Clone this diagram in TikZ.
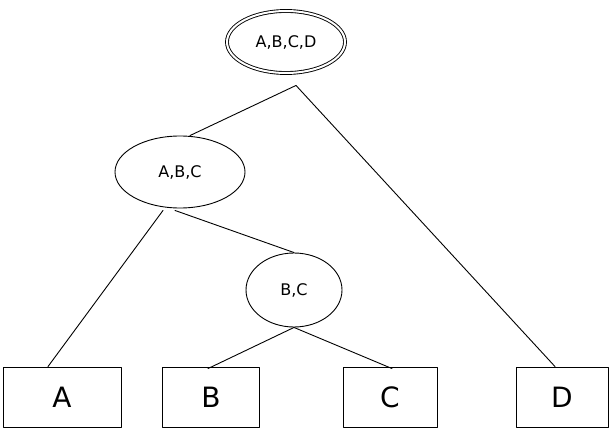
\documentclass[tikz,border=0pt]{standalone}
\usepackage{fontspec}
\setmainfont{DejaVu Sans}
\usetikzlibrary{shapes.geometric}
\begin{document}
\begin{tikzpicture}[x=1pt,y=-1pt, line cap=round, line join=round, line width=0.9pt,
  set/.style={ellipse, draw, inner sep=0pt, font=\fontsize{16}{19}\selectfont},
  leaf/.style={rectangle, draw, minimum width=94pt, minimum height=60pt, font=\fontsize{28}{32}\selectfont}]
  \useasboundingbox (0,0) rectangle (610,428);

  \node[set, double, double distance=2pt, minimum width=118pt, minimum height=62pt] (abcd) at (286,42) {A,B,C,D};
  \node[set, minimum width=130pt, minimum height=72pt] (abc) at (180,172) {A,B,C};
  \node[set, minimum width=96pt, minimum height=74pt] (bc) at (294,290) {B,C};

  \node[leaf, minimum width=118pt] (a) at (62,397) {A};
  \node[leaf, minimum width=97pt] (b) at (211,397) {B};
  \node[leaf] (c) at (390,397) {C};
  \node[leaf, minimum width=92pt] (d) at (562,397) {D};

  \draw ([xshift=10pt,yshift=-12pt]abcd.south) -- ([xshift=10pt]abc.north);
  \draw ([xshift=10pt,yshift=-12pt]abcd.south) -- ([xshift=-7pt]d.north);
  \draw ([xshift=-17pt,yshift=-2pt]abc.south) -- ([xshift=-14pt]a.north);
  \draw ([xshift=-5pt,yshift=-2pt]abc.south) -- (bc.north);
  \draw (bc.south) -- ([xshift=-3pt,yshift=-2pt]b.north);
  \draw (bc.south) -- ([xshift=2pt,yshift=-2pt]c.north);
\end{tikzpicture}
\end{document}
